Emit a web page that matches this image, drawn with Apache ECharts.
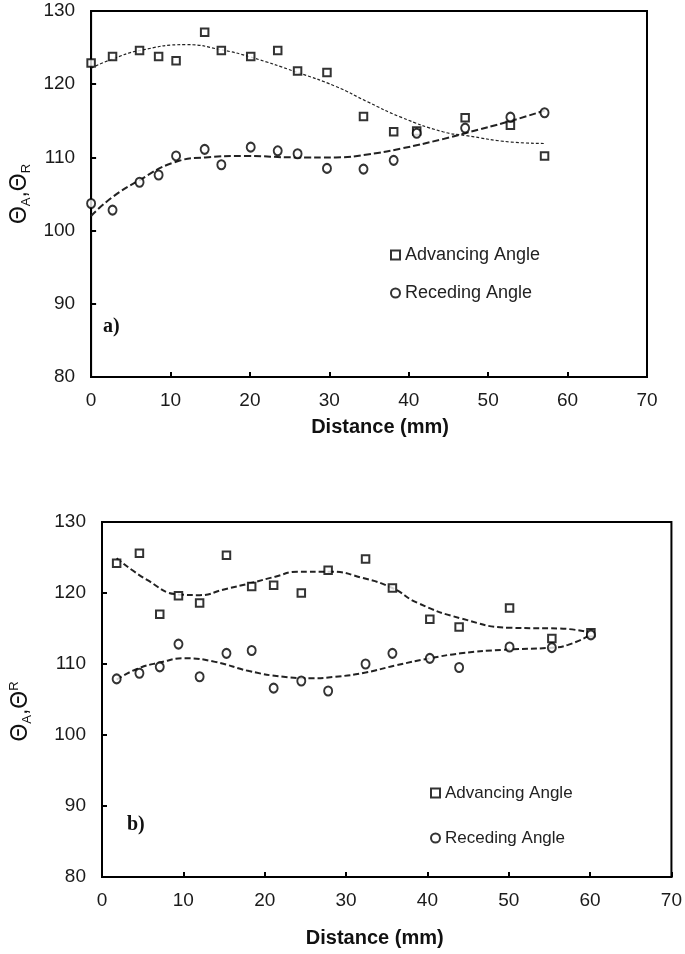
<!DOCTYPE html>
<html>
<head>
<meta charset="utf-8">
<script src="https://cdn.jsdelivr.net/npm/echarts@6/dist/echarts.min.js"></script>
<style>html,body{margin:0;padding:0;background:#fff}#chart{width:685px;height:954px}</style>
</head>
<body>
<div id="chart"></div>
<script>
// ---- Data ----
const xTicks = [0, 10, 20, 30, 40, 50, 60, 70];
const yTicks = [80, 90, 100, 110, 120, 130];

// Panel a)
const topX   = [0, 2.7, 6.1, 8.5, 10.7, 14.3, 16.4, 20.1, 23.5, 26.0, 29.7, 34.3, 38.1, 41.0, 47.1, 52.8, 57.1];
const topAdv = [122.9, 123.8, 124.6, 123.8, 123.2, 127.1, 124.6, 123.8, 124.6, 121.8, 121.6, 115.6, 113.5, 113.6, 115.4, 114.4, 110.2];
const topRec = [103.7, 102.8, 106.6, 107.6, 110.2, 111.1, 109.0, 111.4, 110.9, 110.5, 108.5, 108.4, 109.6, 113.3, 114.0, 115.5, 116.1];
const topAdvFitX = [0, 2.6, 6.1, 12.0, 16.4, 20.1, 26.0, 30.8, 34.8, 39.0, 44.3, 47.1, 52.9, 57.1];
const topAdvFitY = [122.2, 123.4, 124.6, 125.4, 124.7, 123.7, 121.6, 119.7, 117.6, 115.5, 113.5, 113.0, 112.1, 111.9];
const topRecFitX = [0, 2.6, 6.1, 10.4, 14.4, 19.3, 25.9, 30.8, 34.8, 39.0, 44.3, 47.1, 52.9, 57.1];
const topRecFitY = [102.0, 104.5, 106.9, 109.3, 110.0, 110.2, 110.0, 110.0, 110.4, 111.2, 112.5, 113.3, 115.0, 116.4];

// Panel b)
const botX   = [1.8, 4.6, 7.1, 9.4, 12.0, 15.3, 18.4, 21.1, 24.5, 27.8, 32.4, 35.7, 40.3, 43.9, 50.1, 55.3, 60.1];
const botAdv = [124.2, 125.6, 117.0, 119.6, 118.6, 125.3, 120.9, 121.1, 120.0, 123.2, 124.8, 120.7, 116.3, 115.2, 117.9, 113.6, 114.4];
const botRec = [107.9, 108.7, 109.6, 112.8, 108.2, 111.5, 111.9, 106.6, 107.6, 106.2, 110.0, 111.5, 110.8, 109.5, 112.4, 112.3, 114.1];
const botAdvFitX = [1.8, 5.6, 9.4, 12.0, 15.0, 18.3, 21.3, 24.0, 28.0, 32.1, 35.7, 38.8, 44.2, 50.2, 56.3, 60.1];
const botAdvFitY = [124.9, 121.8, 119.8, 119.7, 120.5, 121.4, 122.3, 123.0, 123.0, 122.1, 120.7, 118.6, 116.4, 115.1, 115.0, 114.4];
const botRecFitX = [1.8, 4.3, 7.1, 10.2, 13.9, 18.1, 22.3, 25.5, 28.7, 32.4, 36.1, 40.3, 44.1, 49.3, 55.3, 57.3, 60.1];
const botRecFitY = [107.8, 109.3, 110.2, 110.8, 110.3, 109.0, 108.2, 108.0, 108.2, 108.8, 109.8, 110.8, 111.5, 112.0, 112.3, 112.7, 114.1];

const seriesNames = ['Advancing Angle', 'Receding Angle'];
const panelLabels = ['a)', 'b)'];
const xTitle = 'Distance (mm)';

// ---- Chart ----
const FONT = '"Liberation Sans", Arial, sans-serif';
const zip = (xs, ys) => xs.map((x, i) => [x, ys[i]]);

function xAxis(gridIndex, pad, gap) {
  return {
    type: 'value', gridIndex, min: xTicks[0], max: xTicks[xTicks.length - 1], interval: 10,
    axisLine: { show: true, lineStyle: { color: '#000', width: 2 } },
    axisTick: { show: true, inside: true, length: 5, lineStyle: { color: '#000', width: 2 } },
    axisLabel: { fontFamily: FONT, fontSize: 19, color: '#1a1a1a', margin: 14 },
    splitLine: { show: false },
    name: xTitle, nameLocation: 'middle', nameGap: gap,
    nameTextStyle: { fontFamily: FONT, fontSize: 20, fontWeight: 'bold', color: '#111', padding: pad }
  };
}
function yAxis(gridIndex, name, gap, pad) {
  return {
    type: 'value', gridIndex, min: yTicks[0], max: yTicks[yTicks.length - 1], interval: 10,
    axisLine: { show: true, lineStyle: { color: '#000', width: 2 } },
    axisTick: { show: true, inside: true, length: 5, lineStyle: { color: '#000', width: 2 } },
    axisLabel: { fontFamily: FONT, fontSize: 19, color: '#1a1a1a', margin: 16 },
    splitLine: { show: false },
    name, nameLocation: 'middle', nameRotate: 90, nameGap: gap,
    nameTextStyle: {
      padding: pad,
      rich: {
        t: { fontFamily: FONT, fontSize: 23, color: '#111', lineHeight: 26 },
        sub: { fontFamily: FONT, fontSize: 13, color: '#111', lineHeight: 12, verticalAlign: 'bottom' },
        sup: { fontFamily: FONT, fontSize: 13, color: '#111', lineHeight: 12, verticalAlign: 'top' }
      }
    }
  };
}
const markStyle = { color: '#fff', borderColor: '#000', borderWidth: 2 };
function scatter(name, idx, xs, ys, symbol, size) {
  return { type: 'scatter', name, xAxisIndex: idx, yAxisIndex: idx, data: zip(xs, ys),
    symbol, symbolSize: size, itemStyle: markStyle, clip: false, z: 5 };
}
function fit(name, idx, xs, ys, width, dash) {
  return { type: 'line', name, xAxisIndex: idx, yAxisIndex: idx, data: zip(xs, ys),
    smooth: 0.5, showSymbol: false, symbol: 'none', clip: false,
    lineStyle: { color: '#222', width, type: dash }, z: 3 };
}

const chart = echarts.init(document.getElementById('chart'), null, { renderer: 'canvas' });
chart.setOption({
  backgroundColor: '#fff',
  animation: false,
  title: [
    { text: panelLabels[0], left: 103, top: 317, padding: 0,
      textStyle: { fontFamily: '"Liberation Serif", "Times New Roman", serif', fontWeight: 'bold', fontSize: 20, color: '#111' } },
    { text: panelLabels[1], left: 127, top: 815, padding: 0,
      textStyle: { fontFamily: '"Liberation Serif", "Times New Roman", serif', fontWeight: 'bold', fontSize: 20, color: '#111' } }
  ],
  grid: [
    { left: 75, top: 11, width: 572, height: 366, show: true, borderColor: '#000', borderWidth: 2, backgroundColor: 'transparent' },
    { left: 95, top: 522, width: 578, height: 355, show: true, borderColor: '#000', borderWidth: 2, backgroundColor: 'transparent' }
  ],
  legend: [
    { orient: 'vertical', left: 390, top: 246, itemGap: 20, itemWidth: 9, itemHeight: 9, padding: 0,
      data: seriesNames, selectedMode: false,
      textStyle: { fontFamily: FONT, fontSize: 18, color: '#222', lineHeight: 18 } },
    { orient: 'vertical', left: 430, top: 784, itemGap: 27, itemWidth: 9, itemHeight: 9, padding: 0,
      data: seriesNames, selectedMode: false,
      textStyle: { fontFamily: FONT, fontSize: 17, color: '#222', lineHeight: 18 } }
  ],
  xAxis: [xAxis(0, [0, 0, 0, 22], 40), xAxis(1, [0, 24, 0, 0], 51)],
  yAxis: [
    yAxis(0, '{t|Θ}{sub|A}{t|,Θ}{sub|R}', 50, [0, 0, 0, 0]),
    yAxis(1, '{t|Θ}{sub|A}{t|,Θ}{sup|R}', 68, [0, 24, 0, 0])
  ],
  series: [
    fit('fitA0', 0, topAdvFitX, topAdvFitY, 1.2, [3, 2]),
    fit('fitR0', 0, topRecFitX, topRecFitY, 2, [7, 3]),
    scatter(seriesNames[0], 0, topX, topAdv, 'rect', 7.5),
    scatter(seriesNames[1], 0, topX, topRec, 'circle', [8, 9]),
    fit('fitA1', 1, botAdvFitX, botAdvFitY, 2, [6, 3]),
    fit('fitR1', 1, botRecFitX, botRecFitY, 2, [6, 3]),
    scatter(seriesNames[0], 1, botX, botAdv, 'rect', 7.5),
    scatter(seriesNames[1], 1, botX, botRec, 'circle', [8, 9])
  ]
});
</script>
</body>
</html>
